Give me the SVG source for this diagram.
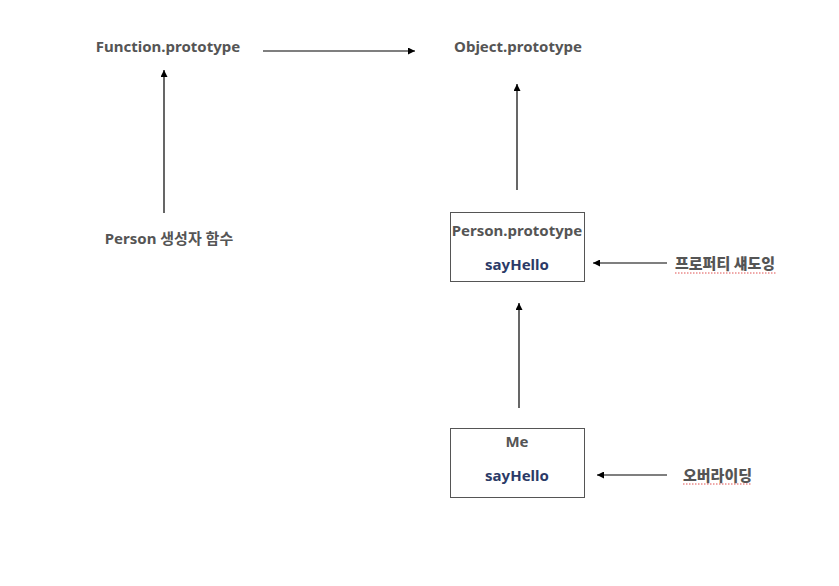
<svg xmlns="http://www.w3.org/2000/svg" width="839" height="586" viewBox="0 0 839 586">
<style>
.t{font-family:"Noto Sans","Noto Sans CJK KR",sans-serif;font-weight:bold;font-size:15px;fill:#555;text-anchor:middle;dominant-baseline:central}
.k{font-family:"Noto Sans CJK KR","Noto Sans",sans-serif;font-weight:900;font-size:15px;fill:#555;dominant-baseline:central}
.m{fill:#2b3a67}
.box{fill:#fff;stroke:#555;stroke-width:1}
.c{stroke:#000;stroke-width:1.2;fill:none;marker-end:url(#ah)}
.sq{stroke:#e05050;stroke-width:1;stroke-dasharray:1.5 1.5;fill:none}
</style>
<defs>
<marker id="ah" viewBox="0 0 10 10" refX="10" refY="5" markerWidth="7" markerHeight="7" markerUnits="userSpaceOnUse" orient="auto">
<path d="M0,0 L10,5 L0,10 z" fill="#000"/>
</marker>
</defs>
<rect width="839" height="586" fill="#fff"/>
<g id="connectors">
<line class="c" x1="263" y1="51" x2="415" y2="51"/>
<line class="c" x1="164" y1="213" x2="164" y2="70"/>
<line class="c" x1="517" y1="190" x2="517" y2="84"/>
<line class="c" x1="519" y1="408" x2="519" y2="303"/>
<line class="c" x1="667" y1="263" x2="593" y2="263"/>
<line class="c" x1="667" y1="475" x2="597" y2="475"/>
</g>
<g id="function-prototype"><text class="t" x="168" y="46">Function.prototype</text></g>
<g id="object-prototype"><text class="t" x="518" y="46">Object.prototype</text></g>
<g id="person-constructor"><text class="t" x="169" y="238">Person 생성자 함수</text></g>
<g id="person-prototype">
<rect class="box" x="450.5" y="212.5" width="134" height="69"/>
<text class="t" x="517" y="230">Person.prototype</text>
<text class="t m" x="517" y="264">sayHello</text>
</g>
<g id="me">
<rect class="box" x="450.5" y="428.5" width="134" height="69"/>
<text class="t" x="517" y="441">Me</text>
<text class="t m" x="517" y="475">sayHello</text>
</g>
<g id="shadowing-label">
<text class="k" x="675" y="262">프로퍼티 섀도잉</text>
<line class="sq" x1="675" y1="273" x2="776" y2="273"/>
</g>
<g id="overriding-label">
<text class="k" x="683" y="474">오버라이딩</text>
<line class="sq" x1="683" y1="484" x2="751" y2="484"/>
</g>
</svg>
